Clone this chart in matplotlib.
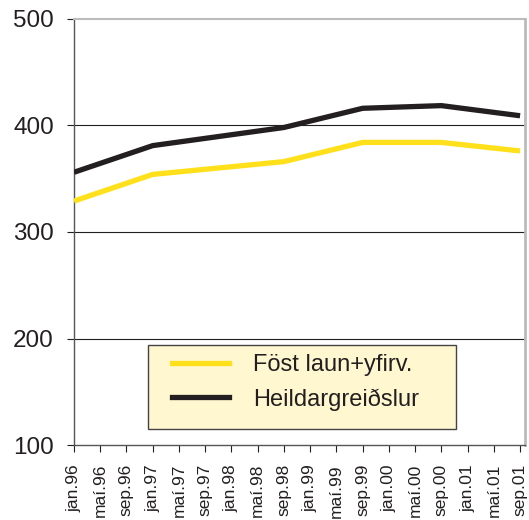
import matplotlib
matplotlib.use("Agg")
import matplotlib.pyplot as plt
from matplotlib.patches import Rectangle
from matplotlib.lines import Line2D

plt.rcParams['font.family'] = ['Liberation Sans', 'DejaVu Sans']

# Data (month index from jan.96)
tick_labels = ['jan.96', 'maí.96', 'sep.96', 'jan.97', 'maí.97', 'sep.97',
               'jan.98', 'maí.98', 'sep.98', 'jan.99', 'maí.99', 'sep.99',
               'jan.00', 'maí.00', 'sep.00', 'jan.01', 'maí.01', 'sep.01']
point_months = [0, 12, 32, 44, 56, 68]
fost_laun = [329, 354, 366, 384, 384, 376]
heildar = [356, 381, 398, 416, 418.5, 409]
series_names = ['Föst laun+yfirv.', 'Heildargreiðslur']

yellow = '#ffe01a'
dark = '#231f20'

fig = plt.figure(figsize=(5.29, 5.20), dpi=100)
ax = fig.add_axes([74/529, 1-445.3/520, (525-74)/529, (445.3-18.7)/520])

ax.plot(point_months, fost_laun, color=yellow, lw=3.8, solid_capstyle='butt', zorder=3)
ax.plot(point_months, heildar, color=dark, lw=3.8, solid_capstyle='butt', zorder=4)

ax.set_xlim(0, 68.75)
ax.set_ylim(100, 500)
ax.set_yticks([100, 200, 300, 400, 500])
ax.set_xticks(range(0, 69, 4))
ax.set_xticklabels(tick_labels, rotation=90, fontsize=12.5, color=dark)
ax.tick_params(axis='y', labelsize=17.5, labelcolor=dark, length=5, width=0.8, color=dark, pad=9.5)
ax.tick_params(axis='x', length=5, width=0.8, color=dark, pad=8.5)

for v in [200, 300, 400]:
    ax.axhline(v, color=dark, lw=0.8, zorder=1)

ax.spines['left'].set_color('#555555')
ax.spines['left'].set_linewidth(1.0)
ax.spines['bottom'].set_color('#555555')
ax.spines['bottom'].set_linewidth(1.0)
ax.spines['top'].set_color('#bbbbbb')
ax.spines['top'].set_linewidth(1.5)
ax.spines['right'].set_color('#bbbbbb')
ax.spines['right'].set_linewidth(2.0)

# Legend box
def ax_x(px):
    return (px - 74) / (525 - 74)

def ax_y(py):
    return (445.3 - py) / (445.3 - 18.7)

rect = Rectangle((ax_x(148), ax_y(429)), ax_x(456) - ax_x(148), ax_y(345) - ax_y(429),
                 transform=ax.transAxes, facecolor='#fff7cf', edgecolor='#444444',
                 lw=1.0, zorder=5)
ax.add_patch(rect)

handles = [Line2D([], [], color=yellow, lw=3.8), Line2D([], [], color=dark, lw=3.8)]
leg = ax.legend(handles, series_names, loc='center left',
                bbox_to_anchor=(ax_x(172), (ax_y(364) + ax_y(401)) / 2),
                frameon=False, fontsize=17, handlelength=2.4, handletextpad=1.05,
                borderpad=0, borderaxespad=0, labelspacing=0.5, labelcolor=dark)
leg.set_zorder(6)

fig.savefig('out.png', dpi=100)
